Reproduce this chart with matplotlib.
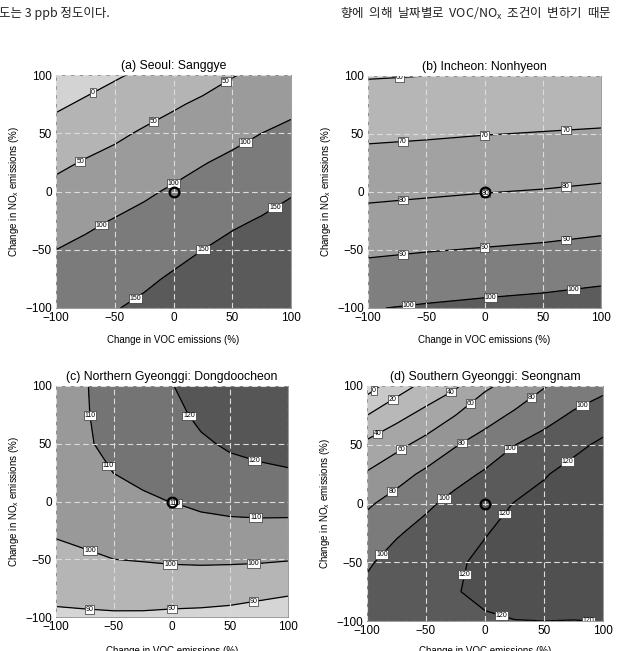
import numpy as np
import matplotlib
matplotlib.use("Agg")
import matplotlib.pyplot as plt

plt.rcParams['font.family'] = ['Liberation Sans', 'DejaVu Sans']

# ---------------- data ----------------
voc9 = [-100, -75, -50, -25, 0, 25, 50, 75, 100]
nox9 = [-100, -75, -50, -25, 0, 25, 50, 75, 100]
voc5 = [-100, -50, 0, 50, 100]

# (a) Seoul: Sanggye  (rows: NOx -100..100, cols: VOC)
z_a = [
    [133, 140, 148, 158, 171, 185, 197, 205, 221],
    [117, 124, 132, 143, 155, 167, 179, 188, 202],
    [100, 109, 117, 127, 138, 150, 161, 170, 184],
    [81, 92, 102, 111, 122, 133, 144, 153, 165],
    [62, 72, 83, 94, 105, 115, 126, 135, 146],
    [41, 53, 63, 75, 86, 98, 108, 118, 128],
    [17, 30, 42, 55, 66, 77, 89, 100, 109],
    [-7, 6, 19, 32, 45, 57, 68, 79, 90],
    [-30, -18, -5, 8, 21, 33, 48, 58, 69],
]
lev_a = [0, 50, 100, 150]

# (b) Incheon: Nonhyeon
z_b = [
    [99.6, 100.9, 102.0, 103.0, 104.4],
    [94.0, 95.2, 96.3, 97.2, 98.6],
    [88.5, 89.6, 90.5, 91.4, 92.8],
    [83.2, 84.2, 85.1, 85.9, 87.1],
    [78.0, 78.9, 79.8, 80.5, 81.6],
    [73.1, 73.9, 74.8, 75.5, 76.3],
    [68.4, 69.0, 69.8, 70.4, 71.0],
    [63.9, 64.5, 65.1, 65.7, 66.2],
    [59.5, 60.0, 60.5, 61.0, 61.5],
]
lev_b = [60, 70, 80, 90, 100]

# (c) Northern Gyeonggi: Dongdoocheon
z_c = [
    [88.4, 88.6, 88.8, 88.7, 88.1, 87.8, 87.1, 85.6, 84.0],
    [92.8, 93.6, 94.4, 94.7, 94.9, 94.7, 94.3, 93.4, 92.3],
    [97.1, 98.6, 100.0, 100.5, 101.1, 101.4, 101.3, 101.1, 100.5],
    [101.2, 102.5, 103.5, 104.6, 105.7, 107.0, 107.5, 107.6, 107.3],
    [103.5, 105.3, 106.9, 109.3, 110.1, 111.7, 112.7, 113.2, 113.4],
    [105.3, 107.5, 110.1, 111.1, 112.6, 115.1, 117.1, 118.2, 119.2],
    [106.5, 109.5, 111.1, 112.7, 115.0, 118.6, 121.3, 122.9, 123.8],
    [107.2, 109.6, 112.0, 114.4, 117.4, 122.0, 124.0, 125.0, 125.5],
    [107.5, 109.6, 113.0, 116.0, 119.7, 124.0, 126.0, 126.5, 127.0],
]
lev_c = [90, 100, 110, 120]

# (d) Southern Gyeonggi: Seongnam
z_d = [
    [107, 113, 117, 118, 118.8, 119.8, 120.0, 119.7, 120.3],
    [104.5, 111.5, 116.5, 119.5, 122.2, 124, 127, 128, 129],
    [97.4, 107.5, 113, 118, 123, 125.5, 129.5, 131.5, 133],
    [87.9, 98, 106.5, 113, 119.3, 124, 129, 132, 134],
    [77.5, 86.8, 96.4, 106, 112, 120.6, 126, 130, 133],
    [61.9, 73.2, 83.6, 93.5, 102.3, 110.2, 118.5, 126.4, 130],
    [44.3, 55.1, 66.7, 78.8, 88.7, 99.7, 106.8, 115.3, 123.5],
    [20, 34.2, 46.5, 60, 72.4, 83.1, 93.7, 102.3, 109.9],
    [-9, 11.3, 25.4, 37.3, 57, 66.4, 78.8, 89.4, 95.3],
]
lev_d = [0, 20, 40, 60, 80, 100, 120]

base_case = (0, 0)
ticks = [-100, -50, 0, 50, 100]

titles = ["(a) Seoul: Sanggye", "(b) Incheon: Nonhyeon",
          "(c) Northern Gyeonggi: Dongdoocheon", "(d) Southern Gyeonggi: Seongnam"]

# ---------------- styles ----------------
fills_a = ['#d3d3d3', '#b4b4b4', '#9b9b9b', '#7b7b7b', '#5a5a5a']
fills_b = ['#bdbdbd', '#b6b6b6', '#a2a2a2', '#9e9e9e', '#7f7f7f', '#5c5c5c']
fills_c = ['#d5d5d5', '#b5b5b5', '#999999', '#747474', '#565656']
fills_d = ['#d8d8d8', '#c9c9c9', '#b8b8b8', '#a6a6a6', '#959595', '#7b7b7b', '#5a5a5a', '#505050']

lab_a = [(-68, 84), (-80, 27), (-17, 60), (46, 92), (-63, -26), (-2, 10), (61, 43),
         (-33, -91), (25, -50), (86, -13)]
lab_b = [(-73, 99), (-70, 43), (0, 48), (70, 53), (-70, -7), (1, 0), (70, 5),
         (-70, -54), (0, -47), (70, -40), (-65, -98), (5, -90), (76, -83)]
lab_c = [(-72, 74), (-59, 28), (1, -7), (72, -16), (12, 72), (71, 35),
         (-72, -46), (-2, -56), (70, -54), (-71, -94), (0, -93), (70, -86)]
lab_d = [(-94, 96), (-77, 87), (-91, 59), (-29, 95), (-72, 47), (-11, 84),
         (-80, 12), (-20, 52), (41, 88), (-89, -42), (-36, 6), (21, 47), (83, 83),
         (69, 37), (14, -7), (-19, -60), (14, -96), (91, -99)]

fig = plt.figure(figsize=(6.19, 6.51), dpi=100)

ax_rects = [
    [56 / 619, 1 - 308 / 651, 235 / 619, 233 / 651],
    [368 / 619, 1 - 308 / 651, 233 / 619, 232 / 651],
    [56 / 619, 1 - 617 / 651, 232 / 619, 231 / 651],
    [367 / 619, 1 - 621 / 651, 236 / 619, 235 / 651],
]
xlabelpads = [8, 8, 9, 6.5]

panels = [
    (voc9, nox9, z_a, lev_a, fills_a, lab_a),
    (voc5, nox9, z_b, lev_b, fills_b, lab_b),
    (voc9, nox9, z_c, lev_c, fills_c, lab_c),
    (voc9, nox9, z_d, lev_d, fills_d, lab_d),
]

for i, (xs, ys, z, lev, fills, labs) in enumerate(panels):
    ax = fig.add_axes(ax_rects[i])
    X, Y = np.meshgrid(xs, ys)
    Z = np.array(z, dtype=float)
    flev = [-1e4] + lev + [1e4]
    ax.contourf(X, Y, Z, levels=flev, colors=fills)
    cs = ax.contour(X, Y, Z, levels=lev, colors='k', linewidths=0.9)
    txts = ax.clabel(cs, inline=False, fontsize=5, fmt='%d', manual=labs)
    for t in txts:
        t.set_bbox(dict(boxstyle='square,pad=0.12', fc='white', ec='#333333', lw=0.5))
        t.set_rotation(0)
        t.set_zorder(5)
    ax.set_xlim(-100, 100)
    ax.set_ylim(-100, 100)
    ax.set_xticks(ticks)
    ax.set_yticks(ticks)
    ax.tick_params(length=0, labelsize=8.5)
    ax.tick_params(axis='x', pad=3)
    ax.tick_params(axis='y', pad=3)
    ax.set_axisbelow(False)
    ax.grid(True, color='#dcdcdc', linestyle=(0, (5, 3)), linewidth=0.8)
    for sp in ax.spines.values():
        sp.set_color('#8a8a8a')
        sp.set_linewidth(0.6)
    ax.plot([base_case[0]], [base_case[1]], 'o', ms=7, mfc='none', mec='k', mew=1.6, zorder=6)
    ax.set_title(titles[i], fontsize=8.8, pad=4)
    ax.set_xlabel("Change in VOC emissions (%)", fontsize=7, labelpad=xlabelpads[i])
    ax.set_ylabel(r"Change in NO$_\mathregular{x}$ emissions (%)", fontsize=7, labelpad=3)

# page text from the scanned paper
kfont = ['Noto Sans CJK KR', 'DejaVu Sans']
fig.text(-0.002, 1 - 13 / 651, "도는 3 ppb 정도이다.", fontsize=9, family=kfont,
         ha='left', va='center', color='#222222')
fig.text(340 / 619, 1 - 13 / 651, "향에  의해  날짜별로  VOC/NO$_\\mathregular{x}$  조건이  변하기  때문",
         fontsize=9, family=kfont, ha='left', va='center', color='#222222')

fig.savefig("out.png", dpi=100)
